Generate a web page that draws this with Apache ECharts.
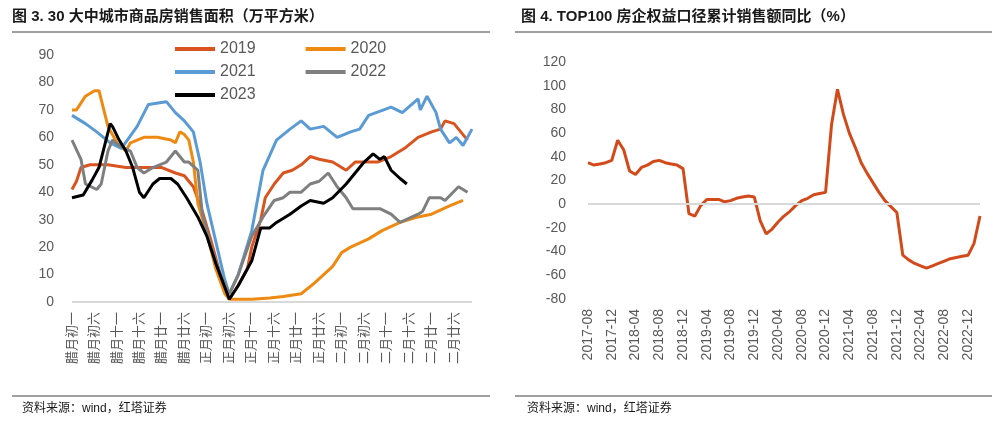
<!DOCTYPE html>
<html>
<head>
<meta charset="UTF-8">
<script src="https://cdn.jsdelivr.net/npm/echarts@6/dist/echarts.min.js"></script>
<style>
html,body{margin:0;padding:0;background:#fff;}
#chart{width:1000px;height:421px;}
</style>
</head>
<body>
<div id="chart"></div>
<script>
// 左图：农历日序（腊月初一=0）
var lunarMonths = ['腊月', '正月', '二月'];
var lunarDays = ['初一','初二','初三','初四','初五','初六','初七','初八','初九','初十',
  '十一','十二','十三','十四','十五','十六','十七','十八','十九','二十',
  '廿一','廿二','廿三','廿四','廿五','廿六','廿七','廿八','廿九','三十'];

var s2019 = [[0,41],[1,44],[2,49],[4,50],[8,50],[12,49],[16,49],[20,49],[23,47],[25,46],[27,42],[29,33],[31,22],[33,10],[35,1],[37,6],[39,12],[40,20],[42,30],[43,38],[45,43],[47,47],[49,48],[51,50],[53,53],[55,52],[58,51],[61,48],[63,51],[66,51],[68,51],[71,53],[74,56],[77,60],[80,62],[82,63],[83,66],[85,65],[88,59]];
var s2020 = [[0,70],[1,70],[3,75],[5,77],[6,77],[8,64],[10,58],[12,55],[13,58],[16,60],[19,60],[22,59],[23,58],[24,62],[25,61],[26,59],[27,51],[28,36],[30,25],[32,12],[34,3],[35,1],[38,1],[40,1],[44,1.5],[47,2],[51,3],[54,7],[56,10],[58,13],[60,18],[62,20],[66,23],[69,26],[73,29],[77,31],[80,32],[84,35],[87,37]];
var s2021 = [[0,68],[3,65],[5.5,62],[8.5,58],[11,56],[14.5,64],[17,72],[21,73],[23,69],[25,66],[27,62],[28.5,51],[30,36],[32,22],[34,8],[35,3],[37,10],[40,26],[42.5,48],[45.5,59],[48.5,63],[51,66],[53,63],[56,64],[59,60],[62,62],[64,63],[66,68],[71,71],[73.5,69],[77,74],[77.5,70],[79,75],[81,69],[82,63],[84,58],[85.5,60],[87,57],[89,63]];
var s2022 = [[0,59],[2,52],[3,43],[5.5,41],[6.5,43],[8,55],[9,59],[10.5,57],[13,55],[14.5,49],[16,47],[18,49],[21,51],[23,55],[25,51],[26,51],[28,48],[29,32],[31,20],[33,10],[35,3],[37,10],[40,24],[42.5,31],[45,37],[47,38],[48.5,40],[51,40],[53,43],[55,44],[57,47],[59,42],[61,38],[62.5,34],[65.5,34],[68.5,34],[71,32],[73,29],[77,32],[78,33],[79.5,38],[82,38],[83,37],[86,42],[88,40]];
var s2023 = [[0,38],[2.5,39],[4.5,44.5],[6,49],[8.5,65],[9,64],[10.5,59],[12,55],[13.5,49],[15,40],[16,38],[18,43],[19.5,45],[22,45],[23.5,43],[25.5,38],[28,31],[30,24],[32,14],[35,1],[37,6],[40,15],[42,27],[44,27],[45.5,29],[48.5,32],[51,35],[53,37],[56,36],[58,38],[61,43],[63,47],[65,51],[67,54],[68.5,52],[69.5,53],[71,48],[73,45],[74.5,43]];

// 右图：TOP100房企权益口径累计销售额同比（2017-08 起，逐月）
var months = [];
for (var y = 2017, m = 8; months.length < 67; m++) {
  if (m > 12) { m = 1; y++; }
  months.push(y + '-' + (m < 10 ? '0' + m : m));
}
var yoy = [35,33,34,35,37,54,46,28,25,31,33,36,37,35,34,33,30,-8,-10,-1,4,4,4,2,3,5,6,7,6,-14,-25,-21,-15,-10,-6,-1,3,5,8,9,10,67,97,76,60,48,35,26,18,10,3,-2,-7,-43,-47,-50,-52,-54,-52,-50,-48,-46,-45,-44,-43,-33,-10];

var lab = {color:'#595959', fontSize:14, fontFamily:'Liberation Sans, Arial, sans-serif'};
var font = '"Liberation Sans", "Noto Sans CJK SC", sans-serif';

function lunarName(v){
  var i = Math.round(v);
  return lunarMonths[Math.floor(i/30)] + lunarDays[i%30];
}
function line(name, data, color){
  return {name:name, type:'line', data:data, xAxisIndex:0, yAxisIndex:0, showSymbol:false,
    lineStyle:{width:3, color:color}, itemStyle:{color:color}};
}
var legendBase = {itemWidth:40, itemHeight:4, icon:'rect', itemGap:50,
  textStyle:{color:'#595959', fontSize:16, fontFamily:font}};

var myChart = echarts.init(document.getElementById('chart'));
myChart.setOption({
  animation:false,
  textStyle:{fontFamily:font},
  graphic:[
    {type:'text', left:12, top:9, style:{text:'图 3. 30 大中城市商品房销售面积（万平方米）', font:'bold 15px '+font, fill:'#1a1a1a'}},
    {type:'text', left:521, top:9, style:{text:'图 4. TOP100 房企权益口径累计销售额同比（%）', font:'bold 15px '+font, fill:'#1a1a1a'}},
    {type:'line', shape:{x1:12,y1:32,x2:490,y2:32}, style:{stroke:'#404040',lineWidth:1}},
    {type:'line', shape:{x1:515,y1:32,x2:992,y2:32}, style:{stroke:'#404040',lineWidth:1}},
    {type:'line', shape:{x1:12,y1:396,x2:490,y2:396}, style:{stroke:'#404040',lineWidth:1}},
    {type:'line', shape:{x1:515,y1:396,x2:992,y2:396}, style:{stroke:'#404040',lineWidth:1}},
    {type:'text', left:22, top:403, style:{text:'资料来源：wind，红塔证券', font:'12px '+font, fill:'#1a1a1a'}},
    {type:'text', left:527, top:403, style:{text:'资料来源：wind，红塔证券', font:'12px '+font, fill:'#1a1a1a'}}
  ],
  legend:[
    Object.assign({data:['2019','2020'], left:170, top:36}, legendBase),
    Object.assign({data:['2021','2022'], left:170, top:59}, legendBase),
    Object.assign({data:['2023'], left:170, top:82}, legendBase)
  ],
  grid:[
    {left:72, top:55, width:400, height:247, outerBoundsMode:'none'},
    {left:588, top:62, width:392, height:237, outerBoundsMode:'none'}
  ],
  xAxis:[
    {type:'value', gridIndex:0, min:0, max:89, interval:5,
      axisLine:{show:false}, axisTick:{show:false}, splitLine:{show:false},
      axisLabel:{rotate:90, margin:10, fontFamily:font, fontSize:13, color:'#595959',
        formatter:function(v){ return v > 85 ? '' : lunarName(v); }}},
    {type:'category', gridIndex:1, data:months, boundaryGap:false,
      axisLine:{onZero:false, show:false}, axisTick:{show:false},
      axisLabel:Object.assign({rotate:90, interval:3, margin:10}, lab)}
  ],
  yAxis:[
    {type:'value', gridIndex:0, min:0, max:90, interval:10,
      axisLine:{show:false}, axisTick:{show:false}, splitLine:{show:false},
      axisLabel:Object.assign({margin:18}, lab)},
    {type:'value', gridIndex:1, min:-80, max:120, interval:20,
      axisLine:{show:false}, axisTick:{show:false}, splitLine:{show:false},
      axisLabel:Object.assign({margin:22}, lab)}
  ],
  series:[
    {type:'line', xAxisIndex:0, yAxisIndex:0, data:[[0,0],[89,0]], silent:true, showSymbol:false,
      lineStyle:{color:'#d9d9d9', width:2}, z:1},
    line('2019', s2019, '#D9541E'),
    line('2020', s2020, '#EE8A12'),
    line('2021', s2021, '#5B9BD5'),
    line('2022', s2022, '#7F7F7F'),
    line('2023', s2023, '#000000'),
    {name:'yoy', type:'line', xAxisIndex:1, yAxisIndex:1, data:yoy, showSymbol:false,
      lineStyle:{width:3, color:'#D24A1A'},
      markLine:{silent:true, symbol:'none', label:{show:false},
        lineStyle:{color:'#d9d9d9', width:2, type:'solid'}, data:[{yAxis:0}]}}
  ]
});
</script>
</body>
</html>
